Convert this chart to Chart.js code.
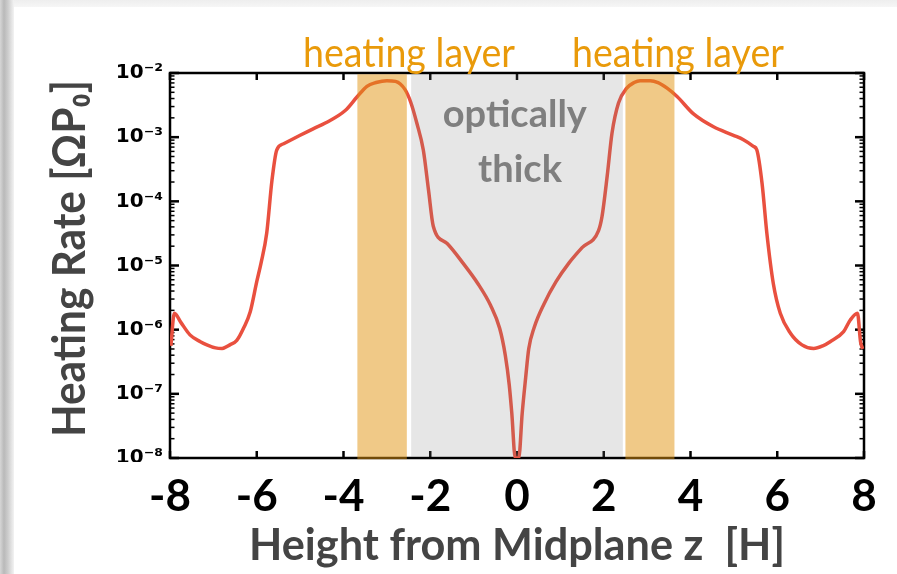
<!DOCTYPE html>
<html>
<head>
<meta charset="utf-8">
<script src="https://cdn.jsdelivr.net/npm/chart.js@4.4.1/dist/chart.umd.min.js"></script>
<style>
  html, body { margin: 0; padding: 0; background: #fff; }
  #wrap { position: relative; width: 897px; height: 574px; overflow: hidden; background: #fff; }
  #topbar { position: absolute; left: 0; top: 0; width: 897px; height: 7px; background: linear-gradient(#eeeeee, #f6f6f6); }
  #leftbar { position: absolute; left: 0; top: 0; width: 14px; height: 574px;
             background: linear-gradient(to right, #d6d6d6 0px, #b9b9b9 4px, #cdcdcd 8px, #f3f3f3 14px); }
  canvas { position: absolute; left: 0; top: 0; }
</style>
</head>
<body>
<div id="wrap">
  <div id="topbar"></div>
  <div id="leftbar"></div>
  <canvas id="c" width="897" height="574"></canvas>
</div>
<script>
// Height above/below the midplane, in scale heights H
const heightZ = [
  -7.98, -7.90, -7.75, -7.54, -7.30, -7.15, -6.95, -6.80, -6.62, -6.46,
  -6.30, -6.15, -6.00, -5.90, -5.77, -5.65, -5.54, -5.38, -5.00, -4.70,
  -4.42, -3.96, -3.68, -3.46, -3.25, -3.00, -2.80, -2.58, -2.45, -2.31,
  -2.16, -2.04, -1.93, -1.61, -1.25, -0.90, -0.61, -0.40, -0.27, -0.18,
  -0.12, -0.04,
   0.04,  0.12,  0.20,  0.27,  0.40,  0.62,  0.90,  1.20,  1.50,  1.88,
   1.96,  2.08,  2.19,  2.34,  2.53,  2.70,  2.84,  3.07,  3.25,  3.46,
   3.69,  4.07,  4.53,  4.99,  5.22,  5.45,  5.53,  5.65,  5.76,  5.91,
   6.07,  6.30,  6.57,  6.84,  7.05,  7.22,  7.53,  7.68,  7.85,  7.92,
   7.97
];

// Heating rate in units of Omega * P0
const heatingRate = [
  5.6e-7, 1.8e-6, 1.3e-6, 8.3e-7, 6.5e-7, 5.8e-7, 5.2e-7, 5.1e-7, 5.8e-7, 6.8e-7,
  1.07e-6, 1.9e-6, 5.6e-6, 1.1e-5, 3.2e-5, 2.1e-4, 6.3e-4, 7.9e-4, 1.07e-3, 1.35e-3,
  1.66e-3, 2.6e-3, 4.3e-3, 6.2e-3, 7.1e-3, 7.6e-3, 7.4e-3, 5.5e-3, 3.5e-3, 1.66e-3,
  6.3e-4, 1.5e-4, 4.1e-5, 2.2e-5, 1.1e-5, 5.2e-6, 2.4e-6, 1.05e-6, 4.0e-7, 1.4e-7,
  5.0e-8, 1.0e-8,
  1.0e-8, 5.0e-8, 1.8e-7, 5.0e-7, 1.1e-6, 2.5e-6, 5.6e-6, 1.1e-5, 1.9e-5, 3.5e-5,
  5.8e-5, 2.5e-4, 1.15e-3, 3.4e-3, 5.8e-3, 7.1e-3, 7.6e-3, 7.6e-3, 7.1e-3, 5.8e-3,
  4.3e-3, 2.3e-3, 1.45e-3, 1.07e-3, 9.1e-4, 7.2e-4, 6.3e-4, 1.9e-4, 3.2e-5, 5.2e-6,
  1.8e-6, 8.9e-7, 5.8e-7, 5.1e-7, 5.6e-7, 6.5e-7, 9.3e-7, 1.4e-6, 1.8e-6, 6.5e-7,
  5.0e-7
];

// Axis ticks
const xTickValues = [-8, -6, -4, -2, 0, 2, 4, 6, 8];
const yDecades = [1e-8, 1e-7, 1e-6, 1e-5, 1e-4, 1e-3, 1e-2];

// Shaded regions (z ranges)
const heatingLayers = [[-3.68, -2.54], [2.50, 3.63]];
const opticallyThick = [-2.44, 2.44];

const SUP = { '-': '\u207B', '0': '\u2070', '1': '\u00B9', '2': '\u00B2', '3': '\u00B3',
              '4': '\u2074', '5': '\u2075', '6': '\u2076', '7': '\u2077', '8': '\u2078', '9': '\u2079' };
function powerLabel(v) {
  const e = String(Math.round(Math.log10(v)));
  return '10' + e.split('').map(ch => SUP[ch]).join('');
}

function fitText(ctx, text, cx, baseY, font, color, targetW) {
  ctx.save();
  ctx.font = font;
  const w = ctx.measureText(text).width;
  const sx = Math.min(1, targetW / w);
  ctx.translate(cx, baseY);
  ctx.scale(sx, 1);
  ctx.fillStyle = color;
  ctx.textAlign = 'center';
  ctx.textBaseline = 'alphabetic';
  ctx.fillText(text, 0, 0);
  ctx.restore();
}

const decor = {
  id: 'decor',
  beforeDatasetsDraw(chart) {
    const { ctx, chartArea: a, scales: { x, y } } = chart;
    ctx.save();
    ctx.strokeStyle = '#000';
    ctx.lineCap = 'butt';
    const seg = (x0, y0, x1, y1) => { ctx.beginPath(); ctx.moveTo(x0, y0); ctx.lineTo(x1, y1); ctx.stroke(); };
    // x major ticks, pointing inward on top and bottom
    ctx.lineWidth = 2.5;
    for (const v of xTickValues) {
      const px = x.getPixelForValue(v);
      seg(px, a.bottom, px, a.bottom - 7);
      seg(px, a.top, px, a.top + 7);
    }
    // y decade and minor ticks on both sides
    for (const d of yDecades) {
      const py = y.getPixelForValue(d);
      ctx.lineWidth = 2.5;
      seg(a.left, py, a.left + 9, py);
      seg(a.right, py, a.right - 9, py);
      if (d >= 1e-2) continue;
      ctx.lineWidth = 1.5;
      for (let m = 2; m <= 9; m++) {
        const pm = y.getPixelForValue(d * m);
        seg(a.left, pm, a.left + 4.5, pm);
        seg(a.right, pm, a.right - 4.5, pm);
      }
    }
    // frame
    ctx.lineWidth = 2.5;
    ctx.strokeRect(a.left, a.top, a.right - a.left, a.bottom - a.top);
    ctx.restore();
  },
  afterDatasetsDraw(chart) {
    const { ctx, chartArea: a, scales: { x } } = chart;
    ctx.save();
    const g0 = x.getPixelForValue(opticallyThick[0]);
    const g1 = x.getPixelForValue(opticallyThick[1]);
    ctx.fillStyle = 'rgba(128,128,128,0.2)';
    ctx.fillRect(g0, a.top + 1.25, g1 - g0, a.bottom - a.top - 2.5);
    ctx.fillStyle = 'rgba(225,148,15,0.5)';
    for (const [z0, z1] of heatingLayers) {
      const p0 = x.getPixelForValue(z0);
      const p1 = x.getPixelForValue(z1);
      ctx.fillRect(p0, a.top + 1.25, p1 - p0, a.bottom - a.top);
    }
    ctx.restore();
  },
  afterDraw(chart) {
    const { ctx, chartArea: a, scales: { x } } = chart;
    // the lowest decade label sits partly under the page edge of the figure
    ctx.save();
    ctx.fillStyle = '#fff';
    ctx.fillRect(95, a.bottom + 4, a.left - 100, 14);
    ctx.restore();

    const orange = '#e99a0a';
    const hFont = '400 40px Lato';
    fitText(ctx, 'heating layer', x.getPixelForValue(-2.49), a.top - 6, hFont, orange, 212);
    fitText(ctx, 'heating layer', x.getPixelForValue(3.71), a.top - 6, hFont, orange, 212);

    const grey = '#7f7f7f';
    fitText(ctx, 'optically', x.getPixelForValue(-0.05), a.top + 54, '700 38px Lato', grey, 156);
    fitText(ctx, 'thick', x.getPixelForValue(0.07), a.top + 109, '700 38px Lato', grey, 95);

    const titleColor = '#444444';
    fitText(ctx, 'Height from Midplane z  [H]', (a.left + a.right) / 2, a.bottom + 102,
            '700 44px Lato', titleColor, 536);
    ctx.save();
    ctx.translate(85, 258.5);
    ctx.rotate(-Math.PI / 2);
    fitText(ctx, 'Heating Rate [\u03A9P\u2080]', 0, 0, '700 46px Lato', titleColor, 357);
    ctx.restore();
  }
};

const points = heightZ.map((z, i) => ({ x: z, y: heatingRate[i] }));

new Chart(document.getElementById('c'), {
  type: 'line',
  data: {
    datasets: [{
      label: 'Heating rate',
      data: points,
      borderColor: '#e9503f',
      borderWidth: 3.5,
      pointRadius: 0,
      fill: false,
      cubicInterpolationMode: 'monotone'
    }]
  },
  options: {
    responsive: false,
    animation: false,
    layout: { padding: { left: 0, top: 73, right: 33, bottom: 0 } },
    plugins: { legend: { display: false }, tooltip: { enabled: false } },
    scales: {
      x: {
        type: 'linear',
        min: -8, max: 8,
        grid: { display: false, drawTicks: false },
        border: { display: false },
        afterFit(s) { s.height = 116; },
        afterBuildTicks(s) { s.ticks = xTickValues.map(v => ({ value: v })); },
        ticks: {
          autoSkip: false,
          maxRotation: 0,
          padding: 12,
          color: '#000',
          font: { family: 'Lato', weight: '700', size: 44 },
          callback: v => String(v)
        }
      },
      y: {
        type: 'logarithmic',
        min: 1e-8, max: 1e-2,
        grid: { display: false, drawTicks: false },
        border: { display: false },
        afterFit(s) { s.width = 170; },
        afterBuildTicks(s) { s.ticks = yDecades.map(v => ({ value: v })); },
        ticks: {
          autoSkip: false,
          padding: 7,
          color: '#000',
          font: { family: 'DejaVu Sans', weight: '700', size: 20 },
          callback: v => powerLabel(v)
        }
      }
    }
  },
  plugins: [decor]
});
</script>
</body>
</html>
